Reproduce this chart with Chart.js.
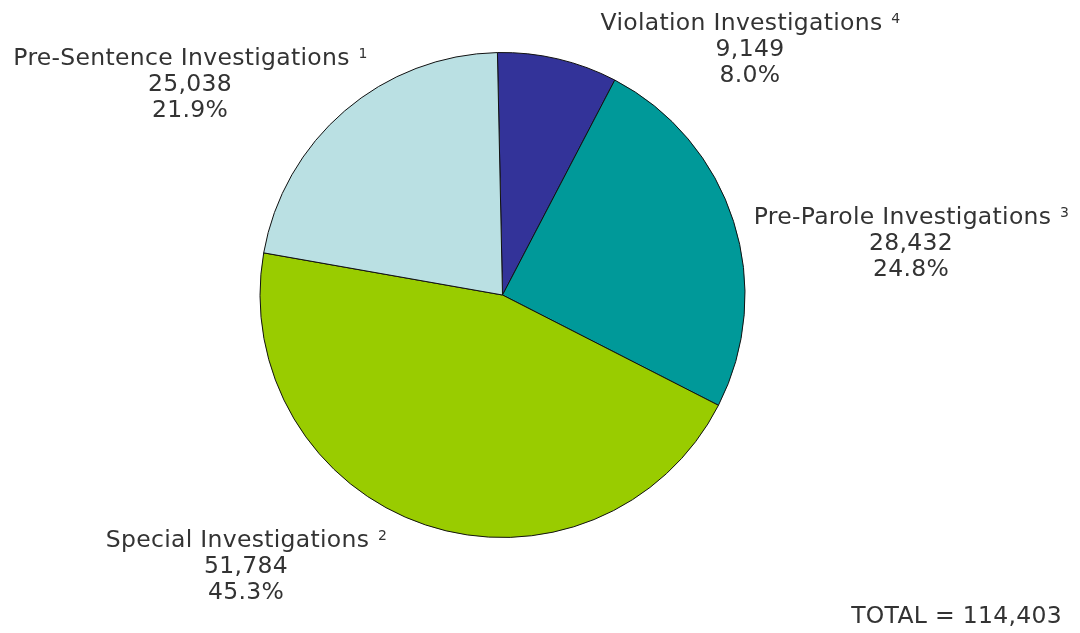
<!DOCTYPE html>
<html>
<head>
<meta charset="utf-8">
<title>Investigations</title>
<script src="https://cdn.jsdelivr.net/npm/chart.js@4/dist/chart.umd.min.js"></script>
<style>
  html, body { margin: 0; padding: 0; background: #fff; }
  #wrap { width: 1080px; height: 633px; position: relative; }
</style>
</head>
<body>
<div id="wrap"><canvas id="pieChart" width="1080" height="633"></canvas></div>
<script>
// slice data, clockwise from the top
const categories = ["Violation Investigations", "Pre-Parole Investigations", "Special Investigations", "Pre-Sentence Investigations"];
const footnotes = ["4", "3", "2", "1"];
const counts = [9149, 28432, 51784, 25038];
const percents = ["8.0%", "24.8%", "45.3%", "21.9%"];
const sliceColors = ["#333399", "#009999", "#99cc00", "#bae0e3"];
const totalLabel = "TOTAL = 114,403";

// where each label block sits (center x, first baseline y)
const labelPos = [
    { x: 750, y: 30 },
    { x: 911, y: 224 },
    { x: 246, y: 547 },
    { x: 190, y: 65 }
];

const FONT = "DejaVu Sans, Verdana, sans-serif";
const TEXT_COLOR = "#333333";

const labelPlugin = {
    id: "sliceLabels",
    afterDraw(chart) {
        const ctx = chart.ctx;
        ctx.save();
        ctx.fillStyle = TEXT_COLOR;
        ctx.textBaseline = "alphabetic";
        ctx.letterSpacing = "0.3px";
        const lineH = 26;
        const mainFont = "23.5px " + FONT;
        const supFont = "14px " + FONT;
        categories.forEach(function(name, i) {
            const p = labelPos[i];
            // first line: name + superscript footnote
            ctx.font = mainFont;
            const nameW = ctx.measureText(name + " ").width;
            ctx.font = supFont;
            const supW = ctx.measureText(footnotes[i]).width;
            const startX = p.x - (nameW + supW) / 2;
            ctx.textAlign = "left";
            ctx.font = mainFont;
            ctx.fillText(name + " ", startX, p.y);
            ctx.font = supFont;
            ctx.fillText(footnotes[i], startX + nameW + 1, p.y - 7);
            // count and percent
            ctx.font = mainFont;
            ctx.textAlign = "center";
            ctx.fillText(counts[i].toLocaleString("en-US"), p.x, p.y + lineH);
            ctx.fillText(percents[i], p.x, p.y + lineH * 2);
        });
        ctx.font = mainFont;
        ctx.textAlign = "right";
        ctx.fillText(totalLabel, 1062, 623);
        ctx.restore();
    }
};

document.addEventListener("DOMContentLoaded", function() {
    const ctx = document.getElementById("pieChart").getContext("2d");
    new Chart(ctx, {
        type: "pie",
        data: {
            labels: categories,
            datasets: [{
                data: counts,
                backgroundColor: sliceColors,
                borderColor: "#111111",
                borderWidth: 1
            }]
        },
        options: {
            responsive: false,
            animation: false,
            rotation: -1.2,
            layout: {
                padding: { top: 52, bottom: 95, left: 20, right: 95 }
            },
            plugins: {
                legend: { display: false },
                tooltip: { enabled: false }
            }
        },
        plugins: [labelPlugin]
    });
});
</script>
</body>
</html>
